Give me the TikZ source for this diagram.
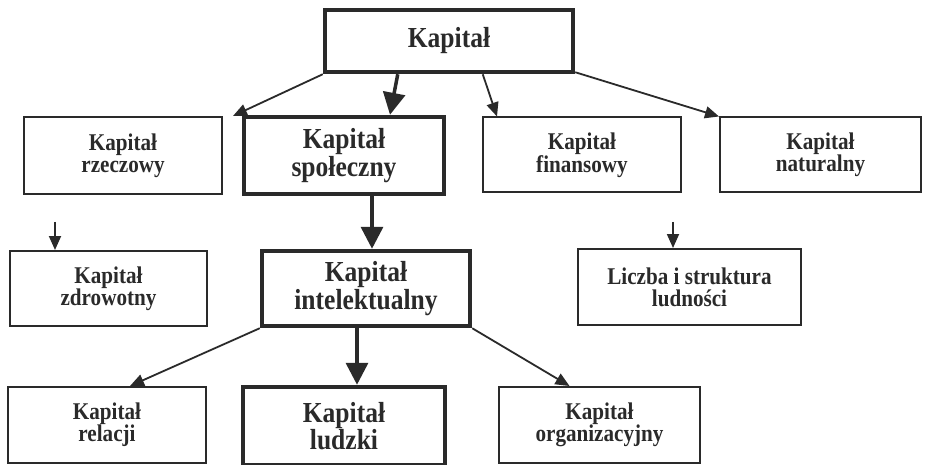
\documentclass[tikz,border=0pt]{standalone}
\usepackage{fontspec}
\setmainfont{Liberation Serif}[FakeStretch=0.88]
\usetikzlibrary{arrows.meta,calc}
\definecolor{ink}{HTML}{2A2A2A}
\begin{document}
\begin{tikzpicture}[x=1pt,y=-1pt,
  box/.style={draw=ink, fill=white, line width=2pt, align=center, text=ink,
    font=\bfseries\fontsize{24}{22}\selectfont, inner sep=0pt},
  bigbox/.style={box, line width=4.5pt, font=\bfseries\fontsize{29}{25}\selectfont},
  thinarrow/.style={draw=ink, line width=1.8pt, -{Triangle[length=14pt,width=12pt]}},
  thickarrow/.style={draw=ink, line width=3.5pt, -{Triangle[length=22pt,width=22pt]}},
]
\fill[white] (0,0) rectangle (926,465);
\useasboundingbox (0,0) rectangle (926,465);

% top
\node[bigbox, minimum width=248pt, minimum height=62pt] (kap) at (449,41) {Kapitał};

% row 1
\node[box, minimum width=198pt, minimum height=77pt] (rze) at (123,155.5) {Kapitał\\rzeczowy};
\node[bigbox, minimum width=200pt, minimum height=77pt] (spo) at (344,155.5) {Kapitał\\społeczny};
\node[box, minimum width=198pt, minimum height=75pt] (fin) at (582,155) {Kapitał\\finansowy};
\node[box, minimum width=201pt, minimum height=75pt] (nat) at (820.5,155) {Kapitał\\naturalny};

% row 2
\node[box, minimum width=197pt, minimum height=75pt] (zdr) at (108.5,288.5) {Kapitał\\zdrowotny};
\node[bigbox, minimum width=208pt, minimum height=75pt] (int) at (366,288.5) {Kapitał\\intelektualny};
\node[box, minimum width=223pt, minimum height=76pt] (lic) at (689.5,287) {Liczba i struktura\\ludności};

% row 3
\node[box, minimum width=198pt, minimum height=76pt] (rel) at (107,425) {Kapitał\\relacji};
\node[bigbox, minimum width=202pt, minimum height=78pt] (lud) at (344,426) {Kapitał\\ludzki};
\node[box, minimum width=201pt, minimum height=76pt] (org) at (599.5,425) {Kapitał\\organizacyjny};

% arrows from top
\draw[thinarrow] (kap.south west) -- ([xshift=10pt]rze.north east);
\draw[thickarrow] ([xshift=75pt]kap.south west) -- ([xshift=46pt]spo.north);
\draw[thinarrow] ([xshift=160pt]kap.south west) -- ([xshift=15pt]fin.north west);
\draw[thinarrow] ([yshift=2pt]kap.south east) -- (nat.north west);

% row 1 -> row 2
\draw[thickarrow] ([xshift=28pt]spo.south) -- ([xshift=28pt]spo.south |- int.north);
\coordinate (fz) at (55,222);
\draw[thinarrow] (fz) -- (fz |- zdr.north);
\coordinate (fl) at (673,222);
\draw[thinarrow] (fl) -- (fl |- lic.north);

% row 2 -> row 3
\draw[thinarrow] (int.south west) -- ([xshift=23pt]rel.north);
\draw[thickarrow] ([xshift=-9pt]int.south) -- ([xshift=-9pt]int.south |- lud.north);
\draw[thinarrow] (int.south east) -- ([xshift=-30pt]org.north);
\end{tikzpicture}
\end{document}
